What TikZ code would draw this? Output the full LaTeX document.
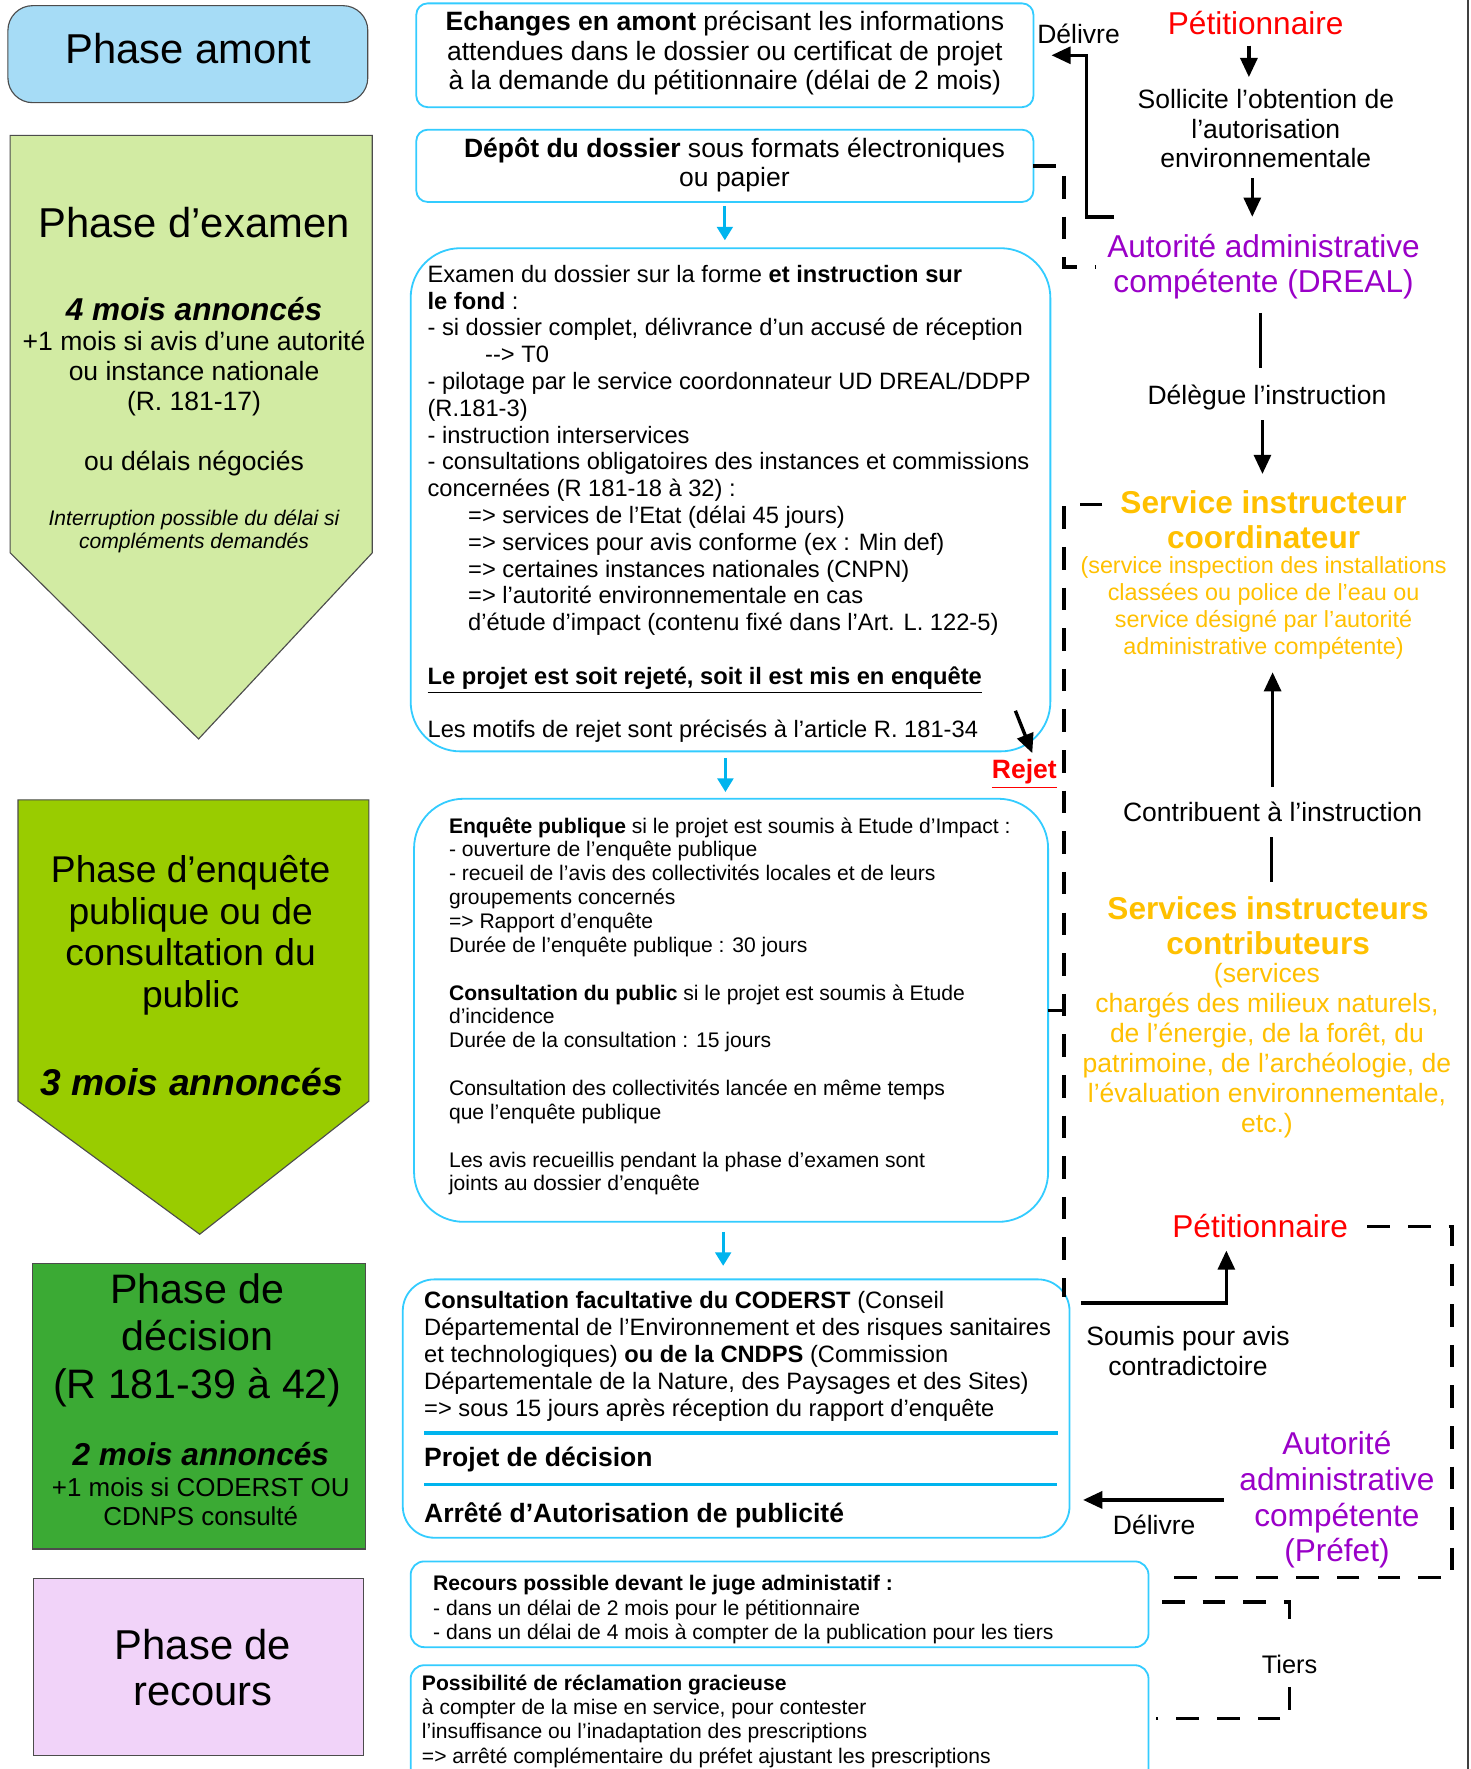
\documentclass[tikz,border=0pt]{standalone}
\usepackage{fontspec}
\setmainfont{Liberation Sans}[Ligatures=TeXOff]
\usetikzlibrary{arrows.meta}
\definecolor{cyanb}{HTML}{33CCFF}
\definecolor{cyana}{HTML}{00B4EE}
\definecolor{pamont}{HTML}{A6DCF6}
\definecolor{pexam}{HTML}{D2EBA3}
\definecolor{penq}{HTML}{99CC00}
\definecolor{pdec}{HTML}{3BAA34}
\definecolor{prec}{HTML}{F1D3F9}
\definecolor{redt}{HTML}{FF0000}
\definecolor{purp}{HTML}{9A00C8}
\definecolor{orng}{HTML}{FFC000}
\newcommand\fz[2]{\fontsize{#1pt}{#2pt}\selectfont}
\begin{document}
\begin{tikzpicture}[x=0.5pt,y=-0.5pt,
 lbl/.style={inner sep=0pt, outer sep=0pt, align=center},
 lft/.style={inner sep=0pt, outer sep=0pt, align=left, anchor=north west},
 phase/.style={draw=black!70, line width=0.5pt},
 cbox/.style={draw=cyanb, line width=0.8pt, fill=white, inner sep=0pt, outer sep=0pt},
 arr/.style={line width=1.5pt, -{Triangle[width=7.5pt,length=8.5pt]}},
 ln/.style={line width=1.5pt},
 dsh/.style={line width=1.5pt, dash pattern=on 10pt off 8pt},
 carr/.style={draw=cyana, line width=1.25pt, -{Triangle[width=7pt,length=6pt]}},
]
\clip (0,0) rectangle (1303,1568);
\fill[white] (0,0) rectangle (1303,1568);
\draw[black!75, line width=1pt] (1301,0) -- (1301,1568);

% ---------- left column ----------
\draw[phase, fill=pamont, rounded corners=11pt] (7,5) rectangle (326,91);
\node[lbl, font=\fz{18.5}{21}] (pa) at (167,43) {Phase amont};

\draw[phase, fill=pexam] (9,120) -- (330,120) -- (330,490) -- (176,655) -- (9,490) -- cycle;
\node[lbl, font=\fz{18.5}{21}] (ex1) at (172,197) {Phase d’examen};
\node[lbl, font={\fz{14}{16}\bfseries\itshape}] (ex2) at (172,274) {4 mois annoncés};
\node[lbl, font=\fz{11.75}{13.25}] (ex3) at (172,331) {+1 mois si avis d’une autorité\\ou instance nationale\\(R. 181-17)};
\node[lbl, font=\fz{11.75}{13.25}] (ex4) at (172,411) {ou délais négociés};
\node[lbl, font={\fz{9.35}{10.5}\itshape}] (ex5) at (172,471) {Interruption possible du délai si\\compléments demandés};

\draw[phase, fill=penq] (16,709) -- (327,709) -- (327,976) -- (177,1094) -- (16,976) -- cycle;
\node[lbl, font=\fz{16.5}{18.5}] (en1) at (169,829) {Phase d’enquête\\publique ou de\\consultation du\\public};
\node[lbl, font={\fz{16.5}{18.5}\bfseries\itshape}] (en2) at (170,959) {3 mois annoncés};

\draw[phase, fill=pdec] (29,1120) rectangle (324,1373);
\node[lbl, font=\fz{18.25}{21.25}] (de1) at (175,1188) {Phase de\\décision\\(R 181-39 à 42)};
\node[lbl, font={\fz{14}{16}\bfseries\itshape}] (de2) at (178,1289) {2 mois annoncés};
\node[lbl, font=\fz{11.5}{13}] (de3) at (178,1331) {+1 mois si CODERST OU\\CDNPS consulté};

\draw[phase, fill=prec] (30,1399) rectangle (322,1556);
\node[lbl, font=\fz{18.5}{20.5}] (re1) at (180,1478) {Phase de\\recours};

% ---------- middle column ----------
\node[cbox, rounded corners=5pt, minimum width=273.5pt, minimum height=46pt] (b1) at (642.5,49) {};
\node[lbl, font=\fz{11.75}{13}] (t1) at (642.5,47) {\textbf{Echanges en amont} précisant les informations\\attendues dans le dossier ou certificat de projet\\à la demande du pétitionnaire (délai de 2 mois)};

\node[cbox, rounded corners=5pt, minimum width=273.5pt, minimum height=32pt] (b2) at (642.5,147) {};
\node[lbl, font=\fz{11.75}{13}] (t2) at (651,146) {\textbf{Dépôt du dossier} sous formats électroniques\\ou papier};

\node[cbox, rounded corners=22pt, minimum width=283.5pt, minimum height=223pt] (b3) at (647.5,443) {};
\node[lft, font=\fz{10.5}{11.88}] (t3) at (379,235) {Examen du dossier sur la forme \textbf{et instruction sur}\\
\textbf{le fond} :\\
- si dossier complet, délivrance d’un accusé de réception\\
\hspace*{25.5pt}--> T0\\
- pilotage par le service coordonnateur UD DREAL/DDPP\\
(R.181-3)\\
- instruction interservices\\
- consultations obligatoires des instances et commissions\\
concernées (R 181-18 à 32) :\\
\hspace*{18pt}=> services de l’Etat (délai 45 jours)\\
\hspace*{18pt}=> services pour avis conforme (ex : Min def)\\
\hspace*{18pt}=> certaines instances nationales (CNPN)\\
\hspace*{18pt}=> l’autorité environnementale en cas\\
\hspace*{18pt}d’étude d’impact (contenu fixé dans l’Art. L. 122-5)\\
\mbox{}\\
\underline{\textbf{Le projet est soit rejeté, soit il est mis en enquête}}\\
\mbox{}\\
Les motifs de rejet sont précisés à l’article R. 181-34};

\node[lbl, font={\fz{11.75}{13}\bfseries}, text=redt] (rej) at (908,686) {\underline{Rejet}};

\node[cbox, rounded corners=22pt, minimum width=281pt, minimum height=187.5pt] (b4) at (648,895.5) {};
\node[lft, font=\fz{9.35}{10.57}] (t4) at (398,724.5) {\textbf{Enquête publique} si le projet est soumis à Etude d’Impact :\\
- ouverture de l’enquête publique\\
- recueil de l’avis des collectivités locales et de leurs\\
groupements concernés\\
=> Rapport d’enquête\\
Durée de l’enquête publique : 30 jours\\
\mbox{}\\
\textbf{Consultation du public} si le projet est soumis à Etude\\
d’incidence\\
Durée de la consultation : 15 jours\\
\mbox{}\\
Consultation des collectivités lancée en même temps\\
que l’enquête publique\\
\mbox{}\\
Les avis recueillis pendant la phase d’examen sont\\
joints au dossier d’enquête};

\node[cbox, rounded corners=14pt, minimum width=295.5pt, minimum height=114.5pt] (b5) at (652.5,1248.5) {};
\node[lft, font=\fz{10.5}{12}] (t5) at (376,1144.6) {\textbf{Consultation facultative du CODERST} (Conseil\\
Départemental de l’Environnement et des risques sanitaires\\
et technologiques) \textbf{ou de la CNDPS} (Commission\\
Départementale de la Nature, des Paysages et des Sites)\\
=> sous 15 jours après réception du rapport d’enquête};
\draw[cyana, line width=1.5pt] (376,1270) -- (938,1270);
\node[lbl, anchor=west, font={\fz{11.75}{13}\bfseries}] (t5b) at (376,1294) {Projet de décision};
\draw[cyana, line width=1.5pt] (376,1316) -- (937,1316);
\node[lbl, anchor=west, font={\fz{11.75}{13}\bfseries}] (t5c) at (376,1343) {Arrêté d’Autorisation de publicité};

\node[cbox, rounded corners=6pt, minimum width=327pt, minimum height=38pt] (b6) at (691,1422) {};
\node[lft, font=\fz{9.35}{10.75}] (t6) at (384,1396.5) {\textbf{Recours possible devant le juge administatif :}\\
- dans un délai de 2 mois pour le pétitionnaire\\
- dans un délai de 4 mois à compter de la publication pour les tiers};

\node[cbox, rounded corners=6pt, minimum width=327pt, minimum height=62pt] (b7) at (691,1538) {};
\node[lft, font=\fz{9.35}{10.75}] (t7) at (374,1484.5) {\textbf{Possibilité de réclamation gracieuse}\\
à compter de la mise en service, pour contester\\
l’insuffisance ou l’inadaptation des prescriptions\\
=> arrêté complémentaire du préfet ajustant les prescriptions};

% cyan arrows
\draw[carr, shorten <=2pt, shorten >=3.5pt] (b2.south) -- (b2.south |- b3.north);
\draw[carr, shorten <=3pt, shorten >=3pt] ([xshift=-2.25pt]b3.south) -- ([xshift=-2.25pt]b3.south |- b4.north);
\draw[carr, shorten <=4.5pt, shorten >=6pt] ([xshift=-3.5pt]b4.south) -- ([xshift=-3.5pt]b4.south |- b5.north);

% ---------- right column ----------
\node[lbl, font=\fz{14}{16}, text=redt] (p1) at (1113,20) {Pétitionnaire};
\node[lbl, font=\fz{11.75}{13}] (sol) at (1122,114) {Sollicite l’obtention de\\l’autorisation\\environnementale};
\node[lbl, font=\fz{14}{15.5}, text=purp] (aut1) at (1120,236.5) {Autorité administrative\\compétente (DREAL)};
\node[lbl, font=\fz{11.75}{13}] (del1) at (956,30) {Délivre};
\node[lbl, font=\fz{11.75}{13}] (del2) at (1123,352) {Délègue l’instruction};
\node[lbl, font={\fz{14}{15.5}\bfseries}, text=orng] (sic) at (1120,460.5) {Service instructeur\\coordinateur};
\node[lbl, font=\fz{10.35}{12}, text=orng] (sicd) at (1120,539) {(service inspection des installations\\classées ou police de l’eau ou\\service désigné par l’autorité\\administrative compétente)};
\node[lbl, font=\fz{11.75}{13}] (ctr) at (1128,720) {Contribuent à l’instruction};
\node[lbl, font={\fz{14}{15.5}\bfseries}, text=orng] (sc) at (1124,820.5) {Services instructeurs\\contributeurs};
\node[lbl, font=\fz{11.75}{13.3}, text=orng] (scd) at (1123,931.5) {(services\\chargés des milieux naturels,\\de l’énergie, de la forêt, du\\patrimoine, de l’archéologie, de\\l’évaluation environnementale,\\etc.)};
\node[lbl, font=\fz{14}{16}, text=redt] (p2) at (1117,1087) {Pétitionnaire};
\node[lbl, font=\fz{11.75}{13.5}] (soum) at (1053,1197.5) {Soumis pour avis\\contradictoire};
\node[lbl, font=\fz{14}{15.85}, text=purp] (aut2) at (1185,1329.5) {Autorité\\administrative\\compétente\\(Préfet)};
\node[lbl, font=\fz{11.75}{13}] (del3) at (1023,1352) {Délivre};
\node[lbl, font=\fz{11.25}{13}] (tiers) at (1143,1475) {Tiers};

% connectors
\draw[arr, shorten <=5pt, shorten >=5.5pt] ([xshift=-3pt]p1.south) -- ([xshift=-3pt]p1.south |- sol.north);
\draw[arr, shorten <=4.75pt, shorten >=7.8pt] ([xshift=-6pt]sol.south) -- ([xshift=-6pt]sol.south |- aut1.north);
\draw[arr] ([xshift=3pt,yshift=7.8pt]aut1.north west) -| ([xshift=23.5pt]b1.east) -- ([xshift=8pt]b1.east);
\draw[dsh, shorten >=5pt] (b2.east) -- ++(27,0) |- (aut1.west);
\draw[ln, shorten <=6pt, shorten >=7.5pt] ([xshift=-1.5pt]aut1.south) -- ([xshift=-1.5pt]aut1.south |- del2.north);
\draw[arr, shorten <=4.8pt, shorten >=7.3pt] ([xshift=-2pt]del2.south) -- ([xshift=-2pt]del2.south |- sic.north);
\draw[arr, shorten <=7pt, shorten >=5.6pt] (ctr.north) -- (ctr.north |- sicd.south);
\draw[ln, shorten <=6.7pt, shorten >=6.3pt] ([xshift=-0.5pt]ctr.south) -- ([xshift=-0.5pt]ctr.south |- sc.north);
\draw[dsh, shorten <=8pt] ([yshift=6.75pt]sic.west) -| ([xshift=-2.5pt,yshift=-8pt]b5.north east);
\draw[dsh] (b4.east) -- ++(14,0);
\draw[arr] ([xshift=5pt,yshift=-10.5pt]b5.north east) -| ([xshift=-15pt,yshift=-5.5pt]p2.south);
\draw[arr] ([xshift=-6.8pt]aut2.west) -- ([xshift=6pt]aut2.west -| b5.east);
\draw[dsh, shorten <=8.6pt] (p2.east) -| ([xshift=134.5pt,yshift=-7pt]b6.north east) -- ([xshift=6pt,yshift=-7pt]b6.north east);
\draw[dsh, shorten >=8.5pt] ([xshift=6pt,yshift=-18pt]b6.north east) -| (tiers.north);
\draw[dsh, shorten <=6pt] (tiers.south) |- ([xshift=3.5pt,yshift=-23.5pt]b7.north east);
\draw[arr] ([xshift=-15.5pt,yshift=18pt]b3.south east) -- ([xshift=3.5pt,yshift=2.75pt]rej.north);
\end{tikzpicture}
\end{document}
